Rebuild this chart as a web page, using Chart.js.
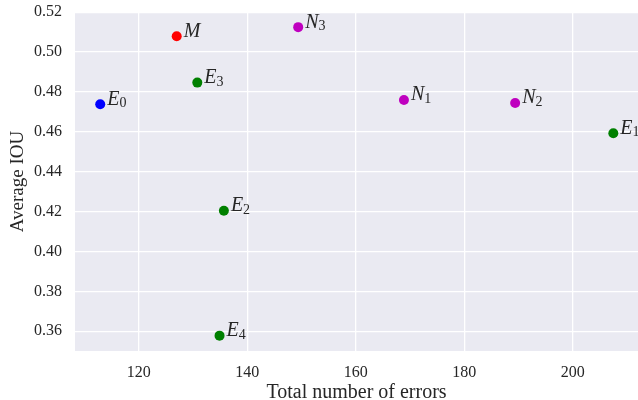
<!DOCTYPE html>
<html>
<head>
<meta charset="utf-8">
<script src="https://cdn.jsdelivr.net/npm/chart.js@4.4.0/dist/chart.umd.min.js"></script>
<style>
  html, body { margin: 0; padding: 0; background: #fff; }
  #wrap { width: 638px; height: 400px; }
</style>
</head>
<body>
<div id="wrap"><canvas id="iouChart" width="638" height="400"></canvas></div>
<script>
// data
const methods = ['E_0', 'M', 'E_1', 'E_2', 'E_3', 'E_4', 'N_1', 'N_2', 'N_3'];
const groups = ['base', 'merged', 'E', 'E', 'E', 'E', 'N', 'N', 'N'];
const totalErrors = [112.9, 127.0, 207.5, 135.7, 130.8, 134.9, 168.9, 189.4, 149.4];
const avgIou = [0.4738, 0.5079, 0.4593, 0.4204, 0.4847, 0.3578, 0.4760, 0.4745, 0.5125];

const groupColors = { base: '#0000ff', merged: '#ff0000', E: '#008000', N: '#bf00bf' };
const textColor = '#262626';
const serif = "'Liberation Serif', 'DejaVu Serif', serif";

// one dataset per colour group
const datasets = Object.keys(groupColors).map(g => {
    const idx = groups.map((v, i) => v === g ? i : -1).filter(i => i >= 0);
    return {
        label: g,
        data: idx.map(i => ({ x: totalErrors[i], y: avgIou[i], name: methods[i] })),
        backgroundColor: groupColors[g],
        borderWidth: 0,
        pointRadius: 5,
        pointHoverRadius: 5
    };
});

// grey plot background like seaborn darkgrid
const plotBg = {
    id: 'plotBg',
    beforeDraw(chart) {
        const a = chart.chartArea;
        const c = chart.ctx;
        c.save();
        c.fillStyle = '#eaeaf2';
        c.fillRect(a.left, a.top, a.right - a.left, a.bottom - a.top);
        c.restore();
    }
};

// point names with subscripts, next to each marker
const pointNames = {
    id: 'pointNames',
    afterDatasetsDraw(chart) {
        const c = chart.ctx;
        c.save();
        c.fillStyle = textColor;
        c.textBaseline = 'alphabetic';
        c.textAlign = 'left';
        chart.data.datasets.forEach((ds, di) => {
            const meta = chart.getDatasetMeta(di);
            meta.data.forEach((pt, i) => {
                const parts = ds.data[i].name.split('_');
                let x = pt.x + 7;
                const y = pt.y + 0.5;
                c.font = 'italic 20px ' + serif;
                c.fillText(parts[0], x, y);
                x += c.measureText(parts[0]).width;
                if (parts[1]) {
                    c.font = '14px ' + serif;
                    c.fillText(parts[1], x, y + 2.5);
                }
            });
        });
        c.restore();
    }
};

new Chart(document.getElementById('iouChart'), {
    type: 'scatter',
    data: { datasets: datasets },
    options: {
        responsive: false,
        animation: false,
        layout: { autoPadding: false, padding: { top: 12, right: 0, left: 0, bottom: 0 } },
        plugins: {
            legend: { display: false },
            tooltip: { enabled: false }
        },
        scales: {
            x: {
                type: 'linear',
                min: 108.25,
                max: 212.05,
                border: { display: false },
                grid: { color: '#ffffff', lineWidth: 1.3, drawTicks: false },
                ticks: {
                    stepSize: 20,
                    includeBounds: false,
                    color: textColor,
                    padding: 12,
                    font: { family: serif, size: 16 },
                    callback: v => v.toFixed(0)
                },
                title: {
                    display: true,
                    text: 'Total number of errors',
                    color: textColor,
                    font: { family: serif, size: 20, lineHeight: 0.7 },
                    padding: { top: 0, bottom: 0 }
                },
                afterFit(scale) {
                    scale.height = 49;
                    scale.paddingLeft = 0;
                    scale.paddingRight = 0;
                }
            },
            y: {
                type: 'linear',
                min: 0.3501,
                max: 0.5201,
                border: { display: false },
                grid: { color: '#ffffff', lineWidth: 1.3, drawTicks: false },
                ticks: {
                    stepSize: 0.02,
                    includeBounds: false,
                    color: textColor,
                    padding: 13,
                    font: { family: serif, size: 16 },
                    callback: v => v.toFixed(2)
                },
                title: {
                    display: true,
                    text: 'Average IOU',
                    color: textColor,
                    font: { family: serif, size: 19 },
                    padding: { top: 7, bottom: 0 }
                },
                afterFit(scale) {
                    scale.width = 75;
                    scale.paddingTop = 0;
                    scale.paddingBottom = 0;
                }
            }
        }
    },
    plugins: [plotBg, pointNames]
});
</script>
</body>
</html>
